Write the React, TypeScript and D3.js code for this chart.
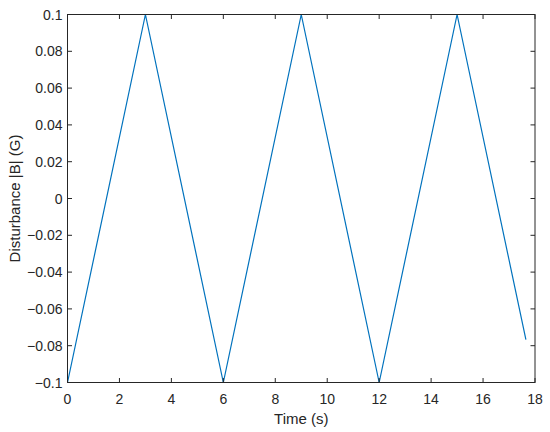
import React from "react";
import * as d3 from "d3";

const timeS = [0, 3, 6, 9, 12, 15, 17.65];
const disturbanceG = [-0.1, 0.1, -0.1, 0.1, -0.1, 0.1, -0.0767];
const xTicks = [0, 2, 4, 6, 8, 10, 12, 14, 16, 18];
const yTicks = [-0.1, -0.08, -0.06, -0.04, -0.02, 0, 0.02, 0.04, 0.06, 0.08, 0.1];

const W = 550, H = 432;
const L = 67.5, R = 535, T = 14.5, B = 382.5;
const AX = "#262626";
const FONT = "Arial, 'Liberation Sans', Helvetica, sans-serif";

export default function App() {
  const x = d3.scaleLinear().domain([0, 18]).range([L, R]);
  const y = d3.scaleLinear().domain([-0.1, 0.1]).range([B, T]);
  const pts = timeS.map((t, i) => [t, disturbanceG[i]] as [number, number]);
  const line = d3.line<[number, number]>().x(d => x(d[0])).y(d => y(d[1]));
  const fmtY = (v: number) => {
    const r = Math.round(v * 100) / 100;
    if (r === 0) return "0";
    return r < 0 ? "\u2212" + String(-r) : String(r);
  };
  const tl = 4.5;
  return (
    <svg width={W} height={H} style={{ position: "absolute", left: 0, top: 0, background: "#fff" }}>
      <rect x={0} y={0} width={W} height={H} fill="#fff" />
      <path d={line(pts) || ""} fill="none" stroke="#0072BD" strokeWidth={1.2} />
      <g stroke={AX} strokeWidth={1}>
        {xTicks.map(t => (
          <g key={"x" + t}>
            <line x1={x(t)} x2={x(t)} y1={B} y2={B - tl} />
            <line x1={x(t)} x2={x(t)} y1={T} y2={T + tl} />
          </g>
        ))}
        {yTicks.map(t => (
          <g key={"y" + t}>
            <line x1={L} x2={L + tl} y1={y(t)} y2={y(t)} />
            <line x1={R} x2={R - tl} y1={y(t)} y2={y(t)} />
          </g>
        ))}
        <rect x={L} y={T} width={R - L} height={B - T} fill="none" />
      </g>
      <g fontFamily={FONT} fontSize={14} fill={AX}>
        {xTicks.map(t => (
          <text key={"xl" + t} x={x(t)} y={B + 21} textAnchor="middle">{t}</text>
        ))}
        {yTicks.map(t => (
          <text key={"yl" + t} x={L - 5} y={y(t) + 5} textAnchor="end">{fmtY(t)}</text>
        ))}
        <text x={(L + R) / 2} y={424} textAnchor="middle" fontSize={15}>Time (s)</text>
        <text transform={`translate(19.5, ${(T + B) / 2}) rotate(-90)`} textAnchor="middle" fontSize={15}>Disturbance |B| (G)</text>
      </g>
    </svg>
  );
}
